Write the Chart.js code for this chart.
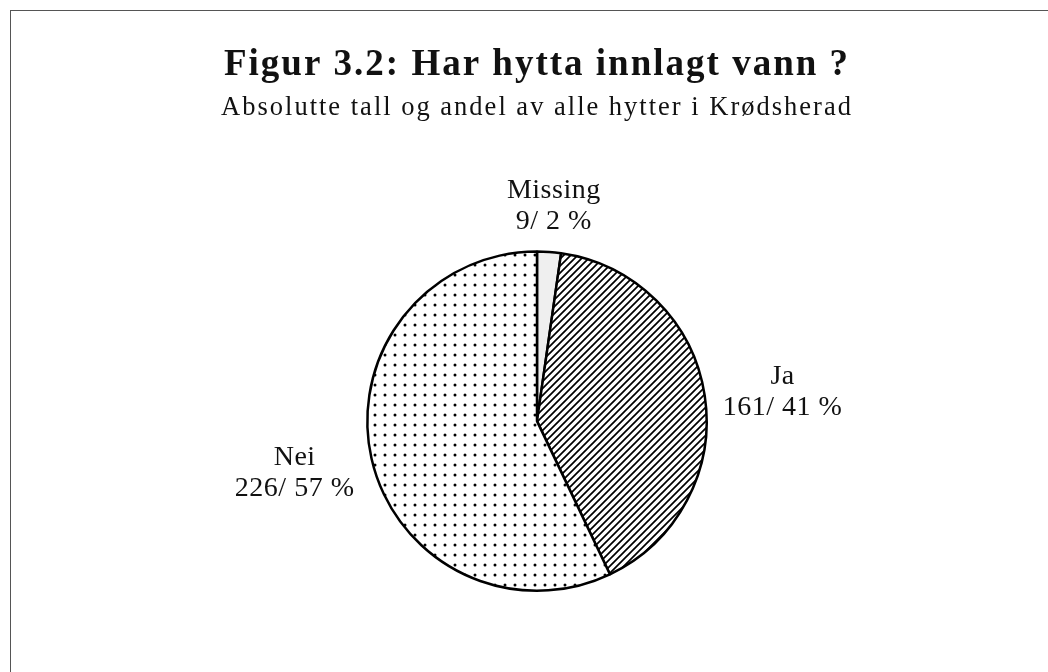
<!DOCTYPE html>
<html>
<head>
<meta charset="utf-8">
<script src="https://cdn.jsdelivr.net/npm/chart.js@4/dist/chart.umd.min.js"></script>
<style>
  html, body { margin: 0; padding: 0; background: #fff; }
  #wrap { width: 1048px; height: 672px; position: relative; }
</style>
</head>
<body>
<div id="wrap"><canvas id="myChart" width="1048" height="672"></canvas></div>
<script>
const categories = ['Missing', 'Ja', 'Nei'];
const counts = [9, 161, 226];
const percents = [2, 41, 57];

function makePattern(kind) {
  const c = document.createElement('canvas');
  const size = kind === 'dots' ? 10 : 7;
  c.width = size;
  c.height = size;
  const g = c.getContext('2d');
  g.fillStyle = '#fff';
  g.fillRect(0, 0, size, size);
  g.fillStyle = '#000';
  g.strokeStyle = '#000';
  if (kind === 'dots') {
    g.beginPath();
    g.arc(5, 5, 1.5, 0, Math.PI * 2);
    g.fill();
  } else if (kind === 'hatch') {
    g.lineWidth = 1.7;
    g.beginPath();
    g.moveTo(-1, size + 1); g.lineTo(size + 1, -1);
    g.moveTo(-2, 2); g.lineTo(2, -2);
    g.moveTo(size - 2, size + 2); g.lineTo(size + 2, size - 2);
    g.stroke();
  }
  return g.createPattern(c, 'repeat');
}

const ctx = document.getElementById('myChart').getContext('2d');

// frame + a bit of letter spacing for the title lines (old typeset look)
const frame = {
  id: 'frame',
  beforeDraw(chart) {
    const c = chart.ctx;
    c.save();
    c.fillStyle = '#fff';
    c.fillRect(0, 0, chart.width, chart.height);
    c.strokeStyle = '#555';
    c.lineWidth = 1;
    c.strokeRect(10.5, 10.5, 1200, 800);
    c.restore();
    c.letterSpacing = '2px';
  },
  afterDraw(chart) {
    chart.ctx.letterSpacing = '0px';
  }
};

const sliceLabels = {
  id: 'sliceLabels',
  afterDatasetsDraw(chart) {
    const c = chart.ctx;
    const meta = chart.getDatasetMeta(0);
    c.save();
    c.letterSpacing = '0.5px';
    c.font = '28px "Liberation Serif", "DejaVu Serif", serif';
    c.fillStyle = '#111';
    c.textAlign = 'center';
    c.textBaseline = 'middle';
    const lh = 31;
    meta.data.forEach((arc, i) => {
      const p = arc.getProps(['x', 'y', 'startAngle', 'endAngle', 'outerRadius'], true);
      const mid = (p.startAngle + p.endAngle) / 2;
      const cos = Math.cos(mid), sin = Math.sin(mid);
      const r = p.outerRadius + 19;
      const lines = [categories[i], counts[i] + '/ ' + percents[i] + ' %'];
      const w = Math.max(...lines.map(t => c.measureText(t).width));
      const h = lines.length * lh;
      const bx = p.x + r * cos + cos * w / 2;
      const by = p.y + r * sin + sin * h / 2 + 4;
      lines.forEach((t, k) => {
        c.fillText(t, bx, by - h / 2 + lh / 2 + k * lh);
      });
    });
    c.restore();
  }
};

new Chart(ctx, {
  type: 'pie',
  data: {
    labels: categories,
    datasets: [{
      data: counts,
      backgroundColor: ['#efefef', makePattern('hatch'), makePattern('dots')],
      borderColor: '#000',
      borderWidth: 2.5,
      borderAlign: 'center'
    }]
  },
  options: {
    responsive: false,
    animation: false,
    layout: { padding: { top: 35, bottom: 80, left: 100, right: 74 } },
    plugins: {
      legend: { display: false },
      tooltip: { enabled: false },
      title: {
        display: true,
        text: 'Figur 3.2: Har hytta innlagt vann ?',
        color: '#111',
        font: { family: '"Liberation Serif", "DejaVu Serif", serif', size: 37, weight: 'bold' },
        padding: { top: 8, bottom: 0 }
      },
      subtitle: {
        display: true,
        text: 'Absolutte tall og andel av alle hytter i Krødsherad',
        color: '#111',
        font: { family: '"Liberation Serif", "DejaVu Serif", serif', size: 26.5 },
        padding: { top: 5, bottom: 126 }
      }
    }
  },
  plugins: [frame, sliceLabels]
});
</script>
</body>
</html>
